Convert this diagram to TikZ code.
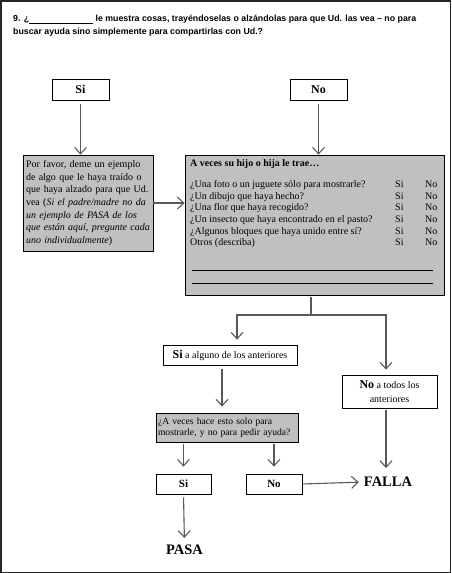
\documentclass[tikz,border=0pt]{standalone}
\usepackage{fontspec}
\setmainfont{Liberation Serif}
\newfontfamily\titulo{Liberation Sans}
\usetikzlibrary{arrows.meta}
\definecolor{fondo}{HTML}{C0C0C0}
\definecolor{linea}{HTML}{595959}

\begin{document}
\begin{tikzpicture}[x=1pt,y=-1pt,
    caja/.style={draw=black,line width=0.8pt,inner sep=0pt},
    gris/.style={caja,fill=fondo},
    flecha/.style={draw=linea,line width=1.1pt,-{Straight Barb[length=6.5pt,width=12pt,line width=1.1pt]}},
    grande/.style={font=\bfseries\fontsize{14.5}{16}\selectfont,inner sep=0pt}]
      % \draw[help lines](0,0) grid (451,573);

      % Bounding box
      \useasboundingbox (0,0) rectangle (451,573);
      \draw[line width=1.5pt,draw=black!85] (0.75,0.75) rectangle (450.25,572.25);

      \draw (13,15) node (pregunta9)[anchor=north west,inner sep=0pt,align=left,font=\titulo\bfseries\fontsize{8.8}{12.8}\selectfont]
        {9. ¿\underline{\hspace{64pt}} le muestra cosas, trayéndoselas o alzándolas para que Ud. las vea – no para\\buscar ayuda sino simplemente para compartirlas con Ud.?};

      \draw (80.5,89.5) node (si)[caja,minimum width=57pt,minimum height=21pt,font=\bfseries\fontsize{12}{14}\selectfont] {Si};
      \draw (318.5,89.5) node (no)[caja,minimum width=57pt,minimum height=21pt,font=\bfseries\fontsize{12}{14}\selectfont] {No};

      \draw (88,203) node (ejemplo)[gris,minimum width=130pt,minimum height=96pt,text width=124pt,align=left,font=\fontsize{10}{12.7}\selectfont]
        {Por favor, deme un ejemplo\\de algo que le haya traído o\\que haya alzado para que Ud.\\vea (\textit{Si el padre/madre no da}\\\textit{un ejemplo de PASA de los}\\\textit{que están aquí, pregunte cada}\\\textit{uno individualmente})};

      \draw (314.5,225) node (trae)[gris,minimum width=259pt,minimum height=140pt] {};
      \draw (190,158) node (lista)[anchor=north west,inner sep=0pt,font=\fontsize{10}{11.7}\selectfont]
        {\begin{tabular}{@{}p{205pt}@{}p{30pt}@{}l@{}}
          \textbf{A veces su hijo o hija le trae…}\\[9.3pt]
          ¿Una foto o un juguete sólo para mostrarle? & Si & No\\
          ¿Un dibujo que haya hecho? & Si & No\\
          ¿Una flor que haya recogido? & Si & No\\
          ¿Un insecto que haya encontrado en el pasto? & Si & No\\
          ¿Algunos bloques que haya unido entre sí? & Si & No\\
          Otros (describa) & Si & No
        \end{tabular}};
      \draw[line width=0.6pt] (192,270) -- (433,270);
      \draw[line width=0.6pt] (192,283) -- (433,283);

      \coordinate (rama) at (311,315);
      \coordinate (izq) at (237,315);
      \coordinate (der) at (386,315);

      \draw (230,355) node (alguno)[caja,minimum width=134pt,minimum height=20pt,font=\fontsize{10}{12}\selectfont]
        {{\bfseries\fontsize{12}{14}\selectfont Si} a alguno de los anteriores};
      \draw (389.5,391.5) node (todos)[caja,minimum width=95pt,minimum height=33pt,align=center,font=\fontsize{10}{14}\selectfont]
        {{\bfseries\fontsize{12}{14}\selectfont No} a todos los\\anteriores};

      \draw (227,427.5) node (pregunta)[gris,minimum width=142pt,minimum height=29pt,inner xsep=2pt,text width=138pt,align=left,font=\fontsize{9.6}{11.5}\selectfont]
        {¿A veces hace esto solo para\\mostrarle, y no para pedir ayuda?};

      \draw (183.5,484) node (si2)[caja,minimum width=55pt,minimum height=20pt,font=\bfseries\fontsize{11}{13}\selectfont] {Si};
      \draw (274,484) node (no2)[caja,minimum width=56pt,minimum height=20pt,font=\bfseries\fontsize{11}{13}\selectfont] {No};

      \draw (388,482) node (falla)[grande] {FALLA};
      \draw (184.5,550) node (pasa)[grande] {PASA};

      \draw [flecha,shorten <=4pt] (si.south) -- (si.south |- ejemplo.north);
      \draw [flecha,shorten <=4pt] (no.south) -- (no.south |- trae.north);
      \draw [flecha] (ejemplo.east) -- (trae.west |- ejemplo.east);
      \draw [flecha,shorten <=2pt,shorten >=5pt] (rama |- trae.south) -- (rama) -| (izq |- alguno.north);
      \draw [flecha,shorten <=2pt,shorten >=5pt] (rama |- trae.south) -- (rama) -| (der |- todos.north);
      \draw [flecha,shorten <=4pt,shorten >=6pt] ([xshift=-8pt]alguno.south) -- ([xshift=-8pt]alguno.south |- pregunta.north);
      \draw [flecha,shorten <=2pt,shorten >=7pt] (si2.north |- pregunta.south) -- (si2.north);
      \draw [flecha,shorten <=2pt,shorten >=7pt] (no2.north |- pregunta.south) -- (no2.north);
      \draw [flecha,shorten <=2pt,shorten >=9pt] (der |- todos.south) -- (der |- falla.north);
      \draw [flecha,shorten <=1pt,shorten >=5pt] (no2.east) -- (falla.west);
      \draw [flecha,shorten <=3pt,shorten >=7pt] (si2.south) -- (pasa.north);
    \end{tikzpicture}
\end{document}
